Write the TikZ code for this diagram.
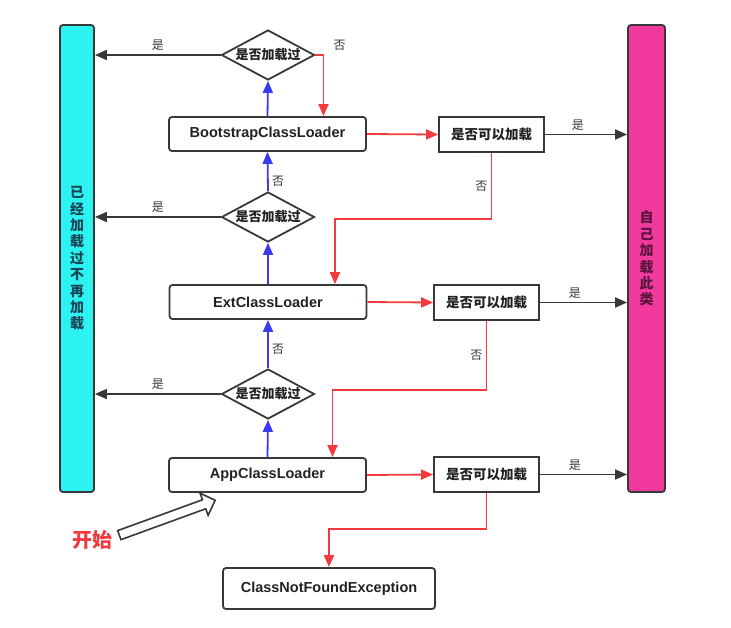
\documentclass[tikz,border=0pt]{standalone}
\usepackage{fontspec}
\setmainfont{Liberation Sans}
\newfontfamily\cjk{Noto Sans CJK SC}
\usetikzlibrary{shapes,arrows.meta,positioning,calc}
\definecolor{linegray}{HTML}{383838}
\definecolor{textgray}{HTML}{222222}
\definecolor{cyanbar}{HTML}{2CF2F2}
\definecolor{pinkbar}{HTML}{F23A9E}
\definecolor{redline}{HTML}{F2393E}
\definecolor{blueline}{HTML}{3A3AF2}
\begin{document}
\begin{tikzpicture}[x=1pt,y=-1pt,
  loader/.style={rectangle,draw=linegray,line width=1.8pt,rounded corners=3pt,minimum width=197pt,minimum height=34pt,text=textgray,font=\fontsize{14.5}{16}\selectfont\bfseries},
  check/.style={diamond,aspect=2,draw=linegray,line width=1.8pt,inner sep=0pt,minimum width=93pt,minimum height=50pt,text=textgray,font=\cjk\bfseries\fontsize{13}{15}\selectfont},
  canload/.style={rectangle,draw=linegray,line width=1.8pt,minimum width=105pt,minimum height=35pt,text=textgray,font=\cjk\bfseries\fontsize{13.5}{15}\selectfont},
  bar/.style={rectangle,draw=linegray,line width=1.8pt,rounded corners=3pt,minimum height=467pt,align=center,font=\cjk\bfseries\fontsize{14}{16.4}\selectfont},
  lbl/.style={text=linegray,font=\cjk\fontsize{12}{14}\selectfont},
  redarrow/.style={draw=redline,line width=1.8pt,-{Triangle[length=12pt,width=10pt]}},
  bluearrow/.style={draw=blueline,line width=1.8pt,-{Triangle[length=12pt,width=10pt]}},
  blackarrow/.style={draw=linegray,line width=1.8pt,-{Triangle[length=12pt,width=10pt]}}]
\useasboundingbox (0,0) rectangle (731,627);

\node [bar,fill=cyanbar,minimum width=34pt,text={rgb,255:red,25;green,70;blue,85}] (done) at (77,258.5)
  {已\\经\\加\\载\\过\\不\\再\\加\\载};
\node [bar,fill=pinkbar,minimum width=37pt,text={rgb,255:red,90;green,20;blue,60}] (self) at (646.5,258.5)
  {自\\己\\加\\载\\此\\类};

\node [check] (chk1) at (268,55) {是否加载过};
\node [check] (chk2) at (268,217) {是否加载过};
\node [check] (chk3) at (268,394) {是否加载过};

\node [loader] (boot) at (267.5,134) {BootstrapClassLoader};
\node [loader] (ext) at (268,302) {ExtClassLoader};
\node [loader] (app) at (267.5,475) {AppClassLoader};
\node [loader,minimum width=212pt,minimum height=41pt] (cnfe) at (329,588.5) {ClassNotFoundException};

\node [canload] (can1) at (491.5,134.5) {是否可以加载};
\node [canload] (can2) at (486.5,302.5) {是否可以加载};
\node [canload] (can3) at (486.5,474.5) {是否可以加载};

\node [text=redline,font=\cjk\bfseries\fontsize{20}{22}\selectfont] (start) at (92,540) {开始};
\node [single arrow,draw=linegray,line width=1.6pt,fill=white,minimum height=102pt,
  single arrow head extend=7pt,inner sep=4pt,rotate=20] (go) at (165,518.5) {};

\draw[bluearrow] (boot.north) -- (chk1.south);
\draw[bluearrow] (chk2.north) -- (boot.south) node [lbl,pos=0.25,right] {否};
\draw[bluearrow] (ext.north) -- (chk2.south);
\draw[bluearrow] (chk3.north) -- (ext.south) node [lbl,pos=0.4,right] {否};
\draw[bluearrow] (app.north) -- (chk3.south);

\draw[blackarrow] (chk1.west) -- (chk1.west -| done.east) node [lbl,midway,above] {是};
\draw[blackarrow] (chk2.west) -- (chk2.west -| done.east) node [lbl,midway,above] {是};
\draw[blackarrow] (chk3.west) -- (chk3.west -| done.east) node [lbl,midway,above] {是};

\draw[redarrow] (chk1.east) -| ([xshift=56pt]boot.north) node [lbl,pos=0.5,above right,xshift=6pt] {否};
\draw[redarrow] (boot.east) -- (can1.west);
\draw[redarrow] (ext.east) -- (can2.west);
\draw[redarrow] (app.east) -- (can3.west);

\draw[blackarrow] (can1.east) -- (can1.east -| self.west) node [lbl,pos=0.4,above] {是};
\draw[blackarrow] (can2.east) -- (can2.east -| self.west) node [lbl,pos=0.4,above] {是};
\draw[blackarrow] (can3.east) -- (can3.east -| self.west) node [lbl,pos=0.4,above] {是};

\draw[redarrow] (can1.south) -- ++(0,66) node [lbl,midway,left] {否} -| ([xshift=67pt]ext.north);
\draw[redarrow] (can2.south) -- ++(0,69) node [lbl,midway,left] {否} -| ([xshift=65pt]app.north);
\draw[redarrow] (can3.south) -- ++(0,36) -| (cnfe.north);
\end{tikzpicture}
\end{document}
